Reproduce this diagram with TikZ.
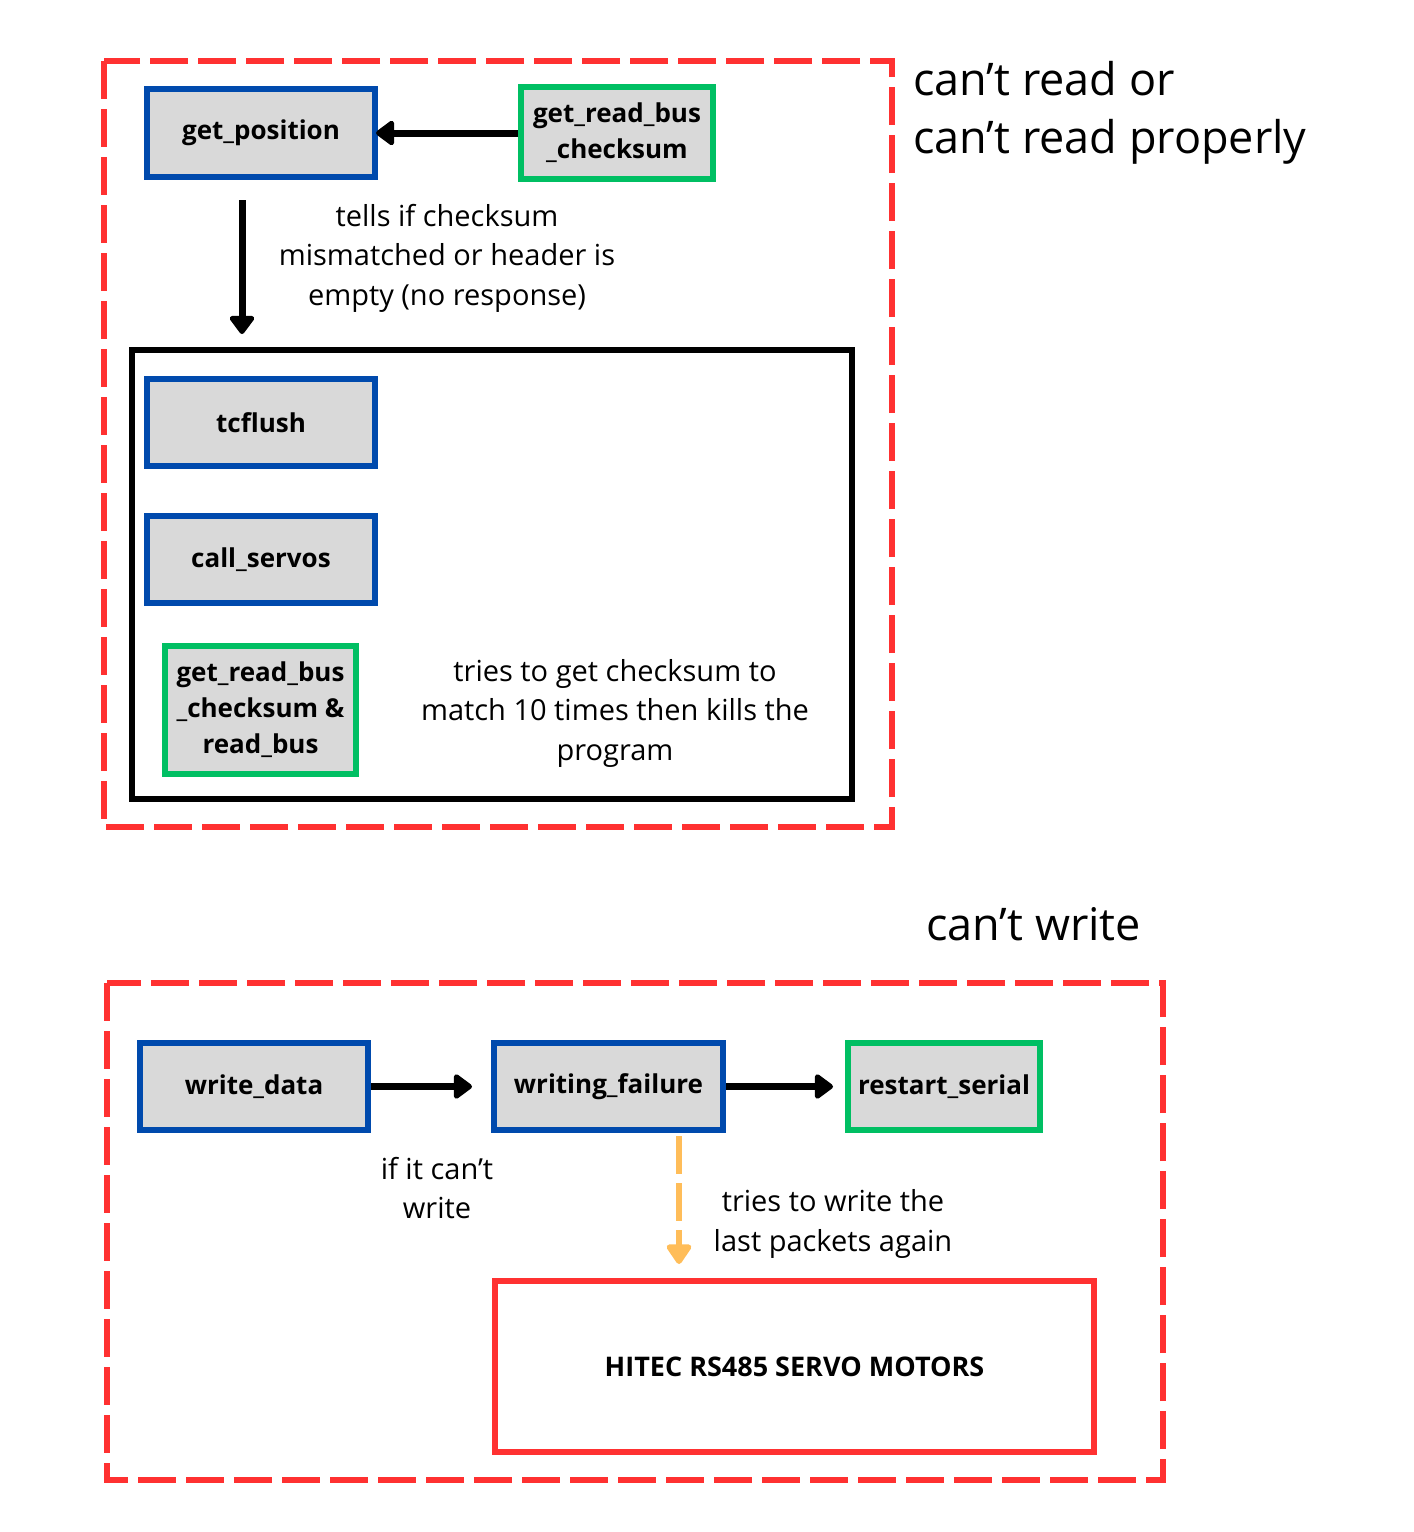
\documentclass[tikz,border=0pt]{standalone}
\usepackage{fontspec}
\setmainfont{Open Sans}
\usetikzlibrary{arrows.meta,calc}
\definecolor{cred}{HTML}{FF3131}
\definecolor{cblue}{HTML}{004AAD}
\definecolor{cgreen}{HTML}{00BF63}
\definecolor{cgray}{HTML}{D9D9D9}
\definecolor{corange}{HTML}{FFBD59}
\tikzset{
  fnbox/.style={draw=cblue, fill=cgray, line width=6pt, inner sep=0pt, align=center,
    font=\fontsize{26}{36}\selectfont\bfseries},
  gnbox/.style={fnbox, draw=cgreen},
  region/.style={draw=cred, line width=6pt, dash pattern=on 38pt off 10pt},
  body/.style={inner sep=0pt, align=center, font=\fontsize{29}{39.5}\selectfont},
  head/.style={inner sep=0pt, align=left, font=\fontsize{45}{58}\selectfont},
  blk/.style={line width=7pt, -{Triangle[width=28pt,length=20pt,round]}},
}
\begin{document}
\begin{tikzpicture}[x=1pt,y=-1pt]
\useasboundingbox (0,0) rectangle (1414,1532);
% regions
\draw[region] (104,61) rectangle (892,827);
\draw[region] (107,983) rectangle (1163,1480);
% headings
\node[head, anchor=west] (h1) at (913,113) {can’t read or\\can’t read properly};
\node[head, anchor=west] (h2) at (926,924) {can’t write};
% top part
\node[fnbox, minimum width=228pt, minimum height=88pt] (gp) at (261,133) {get\_position};
\node[gnbox, minimum width=192pt, minimum height=92pt] (grbc) at (617,133) {get\_read\_bus\\\_checksum};
\draw[blk, shorten >=-2pt] (grbc.west) -- (gp.east);
\coordinate (vs) at (242,200);
\coordinate (ve) at (242,334);
\draw[blk] (vs) -- (ve);
\node[body] (t1) at (447,258) {tells if checksum\\mismatched or header is\\empty (no response)};
\node[draw=black, line width=6pt, minimum width=720pt, minimum height=449pt, inner sep=0pt] (blkbox) at (492,574.5) {};
\node[fnbox, minimum width=228pt, minimum height=87pt] (tc) at (261,422.5) {tcflush};
\node[fnbox, minimum width=228pt, minimum height=87pt] (cs) at (261,559.5) {call\_servos};
\node[gnbox, minimum width=191pt, minimum height=128pt] (grb2) at (260.5,710) {get\_read\_bus\\\_checksum \&\\read\_bus};
\node[body] (t2) at (615,713) {tries to get checksum to\\match 10 times then kills the\\program};
% bottom part
\node[fnbox, minimum width=228pt, minimum height=87pt] (wd) at (254,1086.5) {write\_data};
\node[fnbox, minimum width=229pt, minimum height=87pt] (wf) at (608.5,1086.5) {writing\_failure};
\node[gnbox, minimum width=192pt, minimum height=87pt] (rs) at (944,1086.5) {restart\_serial};
\draw[blk, shorten >=19pt] (wd.east) -- (wf.west);
\draw[blk, shorten >=12pt] (wf.east) -- (rs.west);
\node[body] (t3) at (437,1188) {if it can’t\\write};
\coordinate (os) at (679,1136);
\coordinate (oe) at (679,1264);
\draw[corange, line width=6pt, dash pattern=on 38pt off 9pt, -{Triangle[width=28pt,length=22pt,round]}] (os) -- (oe);
\node[body] (t4) at (833,1224) {tries to write the\\last packets again};
\node[draw=cred, line width=6pt, minimum width=599pt, minimum height=171pt, inner sep=0pt,
  font=\fontsize{27}{30}\selectfont\bfseries] (hitec) at (794.5,1366.5) {HITEC RS485 SERVO MOTORS};
\end{tikzpicture}
\end{document}
